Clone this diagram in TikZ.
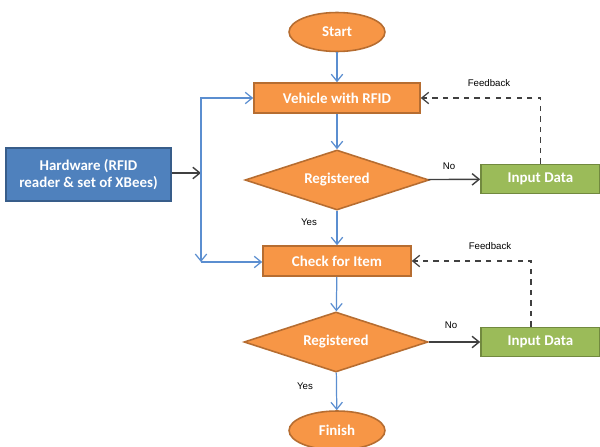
\documentclass[tikz,border=0pt]{standalone}
\usepackage{fontspec}
\setmainfont{Carlito}
\newfontfamily\lblfont{Liberation Sans}
\usetikzlibrary{shapes.geometric,arrows.meta}
\definecolor{boxorange}{HTML}{F79646}
\definecolor{lineorange}{HTML}{B66D31}
\definecolor{boxgreen}{HTML}{9BBB59}
\definecolor{linegreen}{HTML}{71893F}
\definecolor{boxblue}{HTML}{4F81BD}
\definecolor{lineblue}{HTML}{385D8A}
\definecolor{flowblue}{HTML}{5B8ED0}
\definecolor{darkline}{HTML}{404040}
\begin{document}
\begin{tikzpicture}[x=0.02cm, y=-0.02cm,
  every node/.style={font=\fontsize{8.5}{10}\selectfont\bfseries, text=white},
  terminal/.style={ellipse, fill=boxorange, draw=lineorange, line width=0.9pt, minimum width=1.92cm, minimum height=0.78cm, inner sep=0},
  process/.style={rectangle, fill=boxorange, draw=lineorange, line width=0.9pt, minimum height=0.6cm, inner sep=0},
  decision/.style={diamond, shape aspect=3, fill=boxorange, draw=lineorange, line width=0.9pt, minimum width=3.68cm, minimum height=1.2cm, inner sep=0},
  inputbox/.style={rectangle, fill=boxgreen, draw=linegreen, line width=0.9pt, minimum width=2.38cm, minimum height=0.58cm, inner sep=0},
  hwbox/.style={rectangle, fill=boxblue, draw=lineblue, line width=0.9pt, minimum width=3.3cm, minimum height=1.06cm, inner sep=0, align=center},
  lbl/.style={font=\lblfont\fontsize{5.5}{6}\selectfont, text=black},
  flow/.style={draw=flowblue, line width=0.7pt, -{Straight Barb[length=4pt,width=6.5pt]}},
  choice/.style={draw=darkline, line width=0.8pt, -{Straight Barb[length=4pt,width=6.5pt]}},
  back/.style={draw=darkline, line width=0.7pt, dashed, -{Straight Barb[length=4pt,width=6.5pt]}}]
\useasboundingbox (0,0) rectangle (600,447);
\node[terminal] (start) at (337,32){Start};
\node[process, minimum width=3.32cm] (vehicle) at (337,98){Vehicle with RFID};
\node[decision] (reg1) at (337,180){Registered};
\node[inputbox] (input1) at (540.5,179){Input Data};
\node[process, minimum width=2.96cm] (check) at (337,261){Check for Item};
\node[decision] (reg2) at (336,342){Registered};
\node[inputbox] (input2) at (540.5,342){Input Data};
\node[terminal] (finish) at (337,430.5){Finish};
\node[hwbox] (hw) at (88.5,174.5){Hardware (RFID\\reader \& set of XBees)};
\coordinate (jtop) at (201,98);
\coordinate (jmid) at (201,173);
\coordinate (jbot) at (201,262);
% main flow
\draw[flow] (start) -- (vehicle);
\draw[flow] (vehicle) -- (reg1);
\draw[flow] (reg1) -- (check);
\draw[flow] (check) -- (reg2);
\draw[flow] (reg2) -- (finish);
% hardware feeds
\draw[choice] (hw.east |- jmid) -- (jmid);
\draw[flow] (jmid) -- (jtop) -- (vehicle.west);
\draw[flow] (jmid) -- (jbot);
\draw[flow] (jbot) -- (check.west |- jbot);
% no branches
\draw[choice] (reg1) -- (input1);
\draw[choice] (reg2) -- (input2);
\draw[back] (input1.north) |- (vehicle.east);
\draw[back] ([xshift=-0.19cm]input2.north) |- (check.east);
% labels
\node[lbl] (no1) at (449,166){No};
\node[lbl] (no2) at (451,325){No};
\node[lbl] (yes1) at (309,222){Yes};
\node[lbl] (yes2) at (305,386){Yes};
\node[lbl] (fb1) at (489,83){Feedback};
\node[lbl] (fb2) at (490,246){Feedback};
\end{tikzpicture}
\end{document}
